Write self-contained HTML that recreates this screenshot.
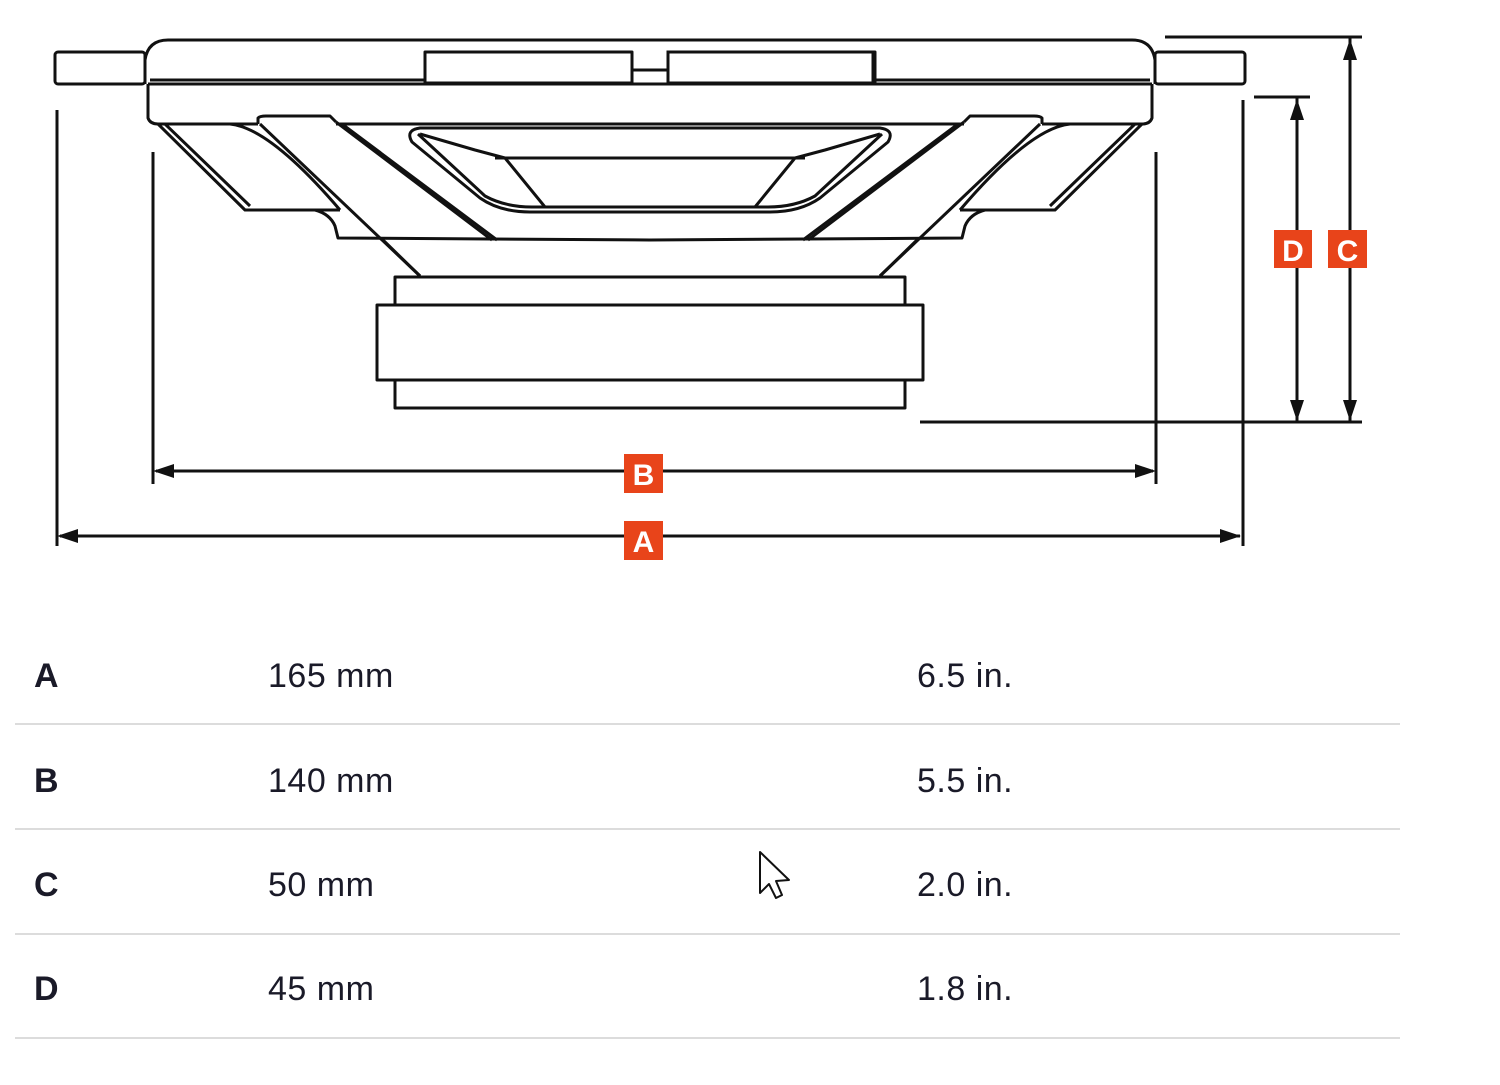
<!DOCTYPE html>
<html><head><meta charset="utf-8">
<style>
html,body{margin:0;padding:0;background:#fff;}
body{width:1500px;height:1085px;overflow:hidden;position:relative;font-family:"Liberation Sans",sans-serif;}
svg{position:absolute;left:0;top:0;}
</style></head>
<body>
<svg width="1500" height="1085" viewBox="0 0 1500 1085" xmlns="http://www.w3.org/2000/svg">
<defs>
  <g id="half" fill="none" stroke="#111" stroke-width="3" stroke-linejoin="round">
    <rect x="55" y="52" width="90" height="32" rx="3"/>
    <path d="M145,84 L145,60 Q148,40 168,40 L650,40"/>
    <path d="M150,80 L425,80"/>
    <path d="M148,84 L650,84"/>
    <rect x="425" y="52" width="207" height="31"/>
    <path d="M632,70 L650,70"/>
    <path d="M148,84 L148,118 Q150,124 158,124 L258,124"/>
    <path d="M158,124 L245,210 L340,210"/>
    <path d="M165,124 L250,206"/>
    <path d="M230,124 Q270,128 340,210"/>
    <path d="M315,210 Q330,214 335,226 L338,238 L650,240"/>
    <path d="M258,124 L258,118 Q260,116 266,116 L330,116 L336,122"/>
    <path d="M260,124 L420,276"/>
    <path d="M336,122 L492,240"/>
    <path d="M342,124 L497,240"/>
    <path d="M336,124 L650,124"/>
    <path d="M650,128 L420,128 Q405,130 412,142 L480,198 Q500,212 530,212 L650,212"/>
    <path d="M418,134 L485,196 Q505,207 532,207 L650,207"/>
    <path d="M420,134 L475,150 L505,158 L545,207"/>
    <path d="M495,158 L650,158"/>
    <path d="M383,240 L420,276"/>
    <path d="M650,277 L395,277 L395,305 L650,305"/>
    <path d="M650,305 L377,305 L377,380 L650,380"/>
    <path d="M650,380 L395,380 L395,408 L650,408"/>
  </g>
</defs>
<use href="#half"/>
<use href="#half" transform="translate(1300,0) scale(-1,1)"/>
<rect x="668" y="52" width="205" height="31" fill="none" stroke="#111" stroke-width="3"/>

<g stroke="#111" stroke-width="3" fill="none">
  <line x1="57" y1="110" x2="57" y2="546"/>
  <line x1="1243" y1="100" x2="1243" y2="546"/>
  <line x1="153" y1="152" x2="153" y2="484"/>
  <line x1="1156" y1="152" x2="1156" y2="484"/>
  <line x1="60" y1="536" x2="1240" y2="536"/>
  <line x1="156" y1="471" x2="1153" y2="471"/>
  <line x1="1165" y1="37" x2="1362" y2="37"/>
  <line x1="1254" y1="97" x2="1310" y2="97"/>
  <line x1="920" y1="422" x2="1362" y2="422"/>
  <line x1="1350" y1="37" x2="1350" y2="422"/>
  <line x1="1297" y1="97" x2="1297" y2="422"/>
</g>
<g fill="#111">
  <polygon points="57,536 78,529 78,543"/>
  <polygon points="1241,536 1220,529 1220,543"/>
  <polygon points="153,471 174,464 174,478"/>
  <polygon points="1156,471 1135,464 1135,478"/>
  <polygon points="1350,39 1343,60 1357,60"/>
  <polygon points="1350,421 1343,400 1357,400"/>
  <polygon points="1297,99 1290,120 1304,120"/>
  <polygon points="1297,421 1290,400 1304,400"/>
</g>
<g font-family="Liberation Sans, sans-serif" font-weight="bold" font-size="30" fill="#fff" text-anchor="middle">
  <rect x="624" y="454" width="39" height="39" fill="#e8441a"/>
  <text x="643.5" y="485">B</text>
  <rect x="624" y="521" width="39" height="39" fill="#e8441a"/>
  <text x="643.5" y="552">A</text>
  <rect x="1274" y="230" width="38" height="38" fill="#e8441a"/>
  <text x="1293" y="261">D</text>
  <rect x="1328" y="230" width="39" height="38" fill="#e8441a"/>
  <text x="1347.5" y="261">C</text>
</g>

<g stroke="#dcdcdc" stroke-width="2">
  <line x1="15" y1="724" x2="1400" y2="724"/>
  <line x1="15" y1="829" x2="1400" y2="829"/>
  <line x1="15" y1="934" x2="1400" y2="934"/>
  <line x1="15" y1="1038" x2="1400" y2="1038"/>
</g>
<g font-family="Liberation Sans, sans-serif" font-size="34" fill="#1a1a28" letter-spacing="0.5">
  <text x="34" y="687" font-weight="bold">A</text>
  <text x="268" y="687">165 mm</text>
  <text x="917" y="687">6.5 in.</text>
  <text x="34" y="792" font-weight="bold">B</text>
  <text x="268" y="792">140 mm</text>
  <text x="917" y="792">5.5 in.</text>
  <text x="34" y="896" font-weight="bold">C</text>
  <text x="268" y="896">50 mm</text>
  <text x="917" y="896">2.0 in.</text>
  <text x="34" y="1000" font-weight="bold">D</text>
  <text x="268" y="1000">45 mm</text>
  <text x="917" y="1000">1.8 in.</text>
</g>
<path d="M760,852 L760,893 L769,884 L776,898 L782,895 L776,881 L789,880 Z" fill="#fff" stroke="#111" stroke-width="2" stroke-linejoin="round"/>
</svg>
</body></html>
